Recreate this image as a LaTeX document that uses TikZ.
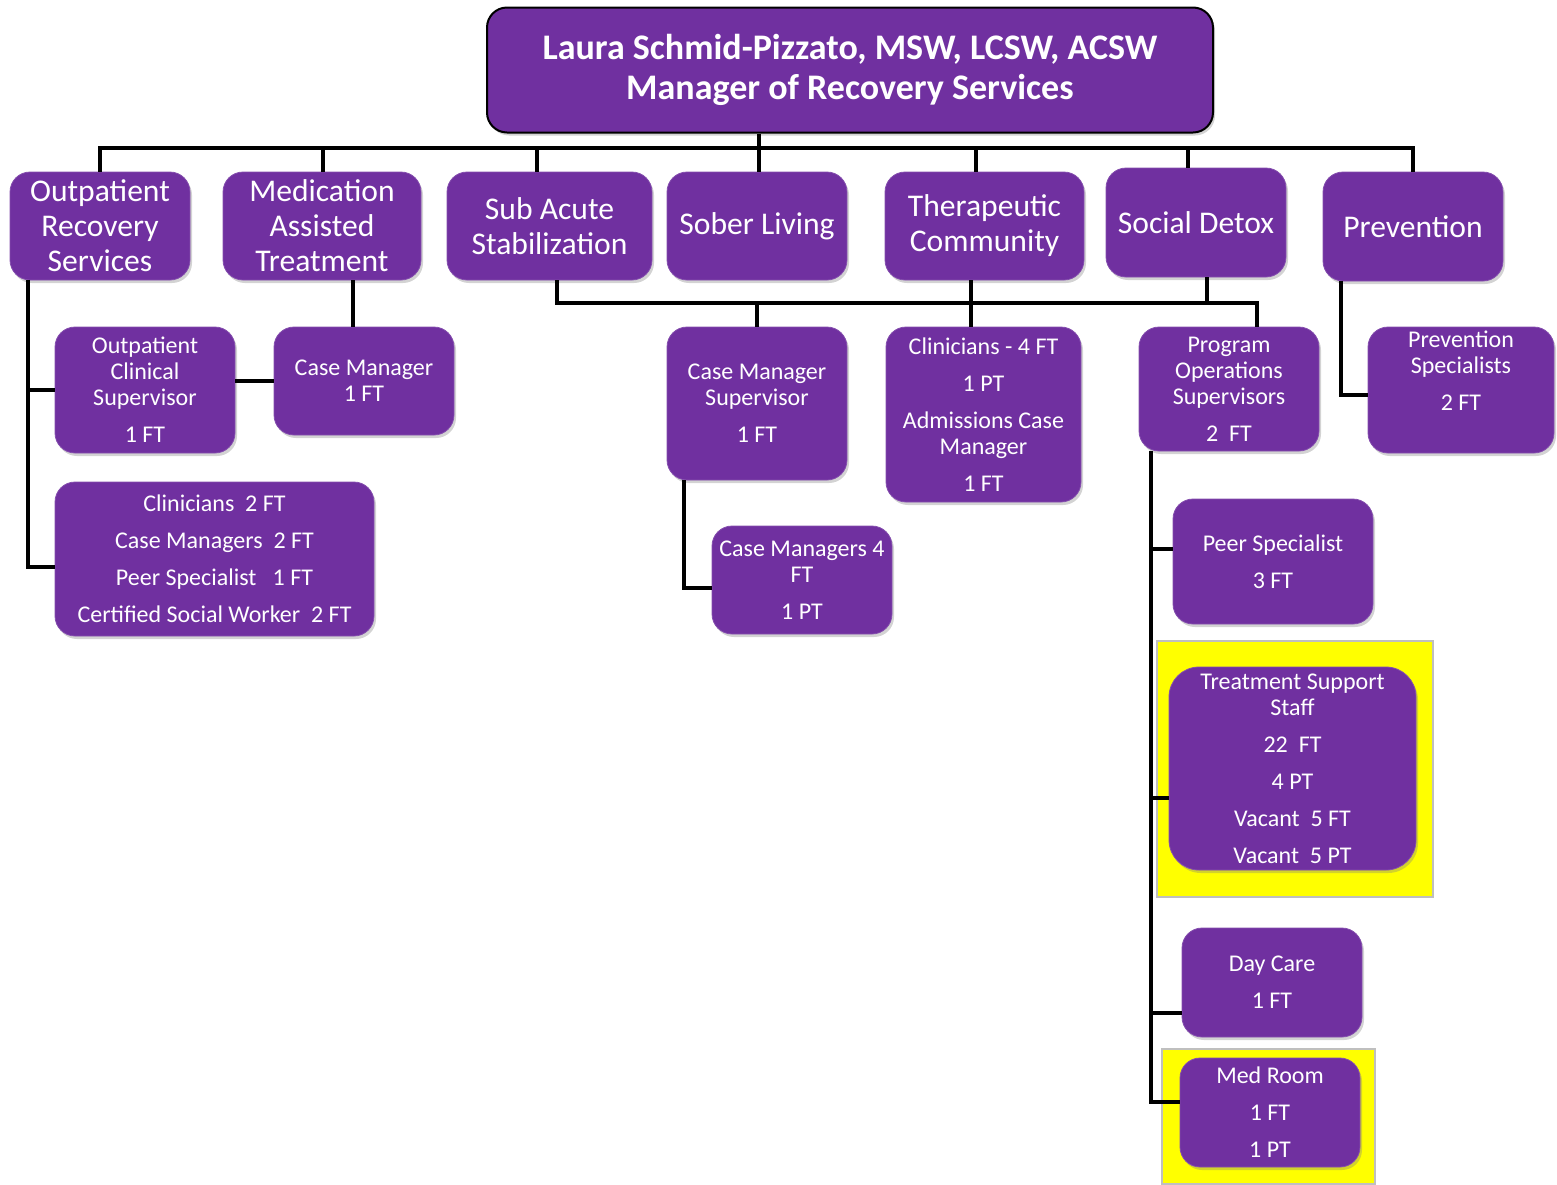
\documentclass[tikz,border=0pt]{standalone}
\usepackage{fontspec}
\setmainfont{Carlito}
\usepackage{tikz}
\usetikzlibrary{calc,shadows}
\definecolor{staffpurple}{HTML}{7030A0}
\definecolor{marker}{HTML}{FFFF00}
\definecolor{markerline}{HTML}{BFBFBF}

\begin{document}
\begin{tikzpicture}[x=0.5pt,y=-0.5pt,
box/.style={draw=staffpurple!85!white,fill=staffpurple,rounded corners=10pt,text=white,
 align=center,inner sep=2pt,drop shadow={shadow xshift=1pt,shadow yshift=-1.5pt,opacity=0.35}},
head/.style={box,draw=black,line width=1pt,font=\fontsize{18}{20}\selectfont\bfseries},
unit/.style={box,font=\fontsize{15.8}{17.5}\selectfont},
staff/.style={box,font=\fontsize{12}{13}\selectfont},
conn/.style={line width=1.8pt},
hilite/.style={fill=marker,draw=markerline,line width=0.6pt}]
\useasboundingbox (0,0) rectangle (1557,1184);
\draw[hilite] (1157,641) rectangle (1433,897);
\draw[hilite] (1162,1049) rectangle (1375,1184);
\node[head,minimum width=363pt,minimum height=62.5pt] (head) at (850,70)
 {Laura Schmid-Pizzato, MSW, LCSW, ACSW\\Manager of Recovery Services};
\node[unit,minimum width=90pt,minimum height=54pt] (orec) at (100,226) {Outpatient\\Recovery\\Services};
\node[unit,minimum width=99pt,minimum height=54pt] (mat) at (322,226) {Medication\\Assisted\\Treatment};
\node[unit,minimum width=102.5pt,minimum height=54pt] (sas) at (549.5,226) {Sub Acute\\Stabilization};
\node[unit,minimum width=90pt,minimum height=54pt] (sober) at (757,226) {Sober Living};
\node[unit,minimum width=99.5pt,minimum height=54pt] (tc) at (984.5,226) {Therapeutic\\Community};
\node[unit,minimum width=90pt,minimum height=54.5pt] (sdetox) at (1196,222.5) {Social Detox};
\node[unit,minimum width=90pt,minimum height=54.5pt] (prev) at (1413,226.5) {Prevention};
\node[staff,minimum width=90pt,minimum height=63pt] (ocs) at (145,390)
 {Outpatient\\Clinical\\Supervisor\\[5.5pt]1 FT};
\node[staff,minimum width=90pt,minimum height=54pt] (cm) at (364,381) {Case Manager\\1 FT};
\node[staff,minimum width=159.5pt,minimum height=77pt] (opstaff) at (214.5,559)
 {Clinicians\ \ 2 FT\\[5.5pt]Case Managers\ \ 2 FT\\[5.5pt]Peer Specialist\ \ \ 1 FT\\[5.5pt]Certified Social Worker\ \ 2 FT};
\node[staff,minimum width=90pt,minimum height=76.5pt] (cms) at (757,403.5) {Case Manager\\Supervisor\\[5.5pt]1 FT};
\node[staff,minimum width=97.5pt,minimum height=87.5pt] (tcstaff) at (983.5,414.5)
 {Clinicians - 4 FT\\[5.5pt]1 PT\\[5.5pt]Admissions Case\\Manager\\[5.5pt]1 FT};
\node[staff,minimum width=90pt,minimum height=54pt] (cm4) at (802,580) {Case Managers 4\\FT\\[5.5pt]1 PT};
\node[staff,minimum width=90pt,minimum height=62pt] (pos) at (1229,389)
 {Program\\Operations\\Supervisors\\[5.5pt]2\ \ FT};
\node[staff,minimum width=93pt,minimum height=63pt] (prevspec) at (1461,390)
 {Prevention\\Specialists\\[5.5pt]2 FT\\[6pt]\mbox{}};
\node[staff,minimum width=100pt,minimum height=62.5pt] (peer) at (1273,561.5) {Peer Specialist\\[5.5pt]3 FT};
\node[staff,rounded corners=15pt,minimum width=123.5pt,minimum height=101.5pt] (tss) at (1292.5,768.5)
 {Treatment Support\\Staff\\[5.5pt]22\ \ FT\\[5.5pt]4 PT\\[5.5pt]Vacant\ \ 5 FT\\[5.5pt]Vacant\ \ 5 PT};
\node[staff,minimum width=90pt,minimum height=54.5pt] (daycare) at (1272,982.5) {Day Care\\[5.5pt]1 FT};
\node[staff,minimum width=90pt,minimum height=54.5pt] (medroom) at (1270,1112.5) {Med Room\\[5.5pt]1 FT\\[5.5pt]1 PT};
\coordinate (bus) at (700,148);
\coordinate (mid) at (700,303);
\draw[conn] ([xshift=-45.5pt]head.south) -- ([xshift=-45.5pt]head.south |- bus);
\draw[conn] (orec.north) |- (prev.north |- bus) -- (prev.north);
\draw[conn] ([xshift=0.5pt]mat.north) -- ([xshift=0.5pt]mat.north |- bus);
\draw[conn] ([xshift=-6.25pt]sas.north) -- ([xshift=-6.25pt]sas.north |- bus);
\draw[conn] ([xshift=1pt]sober.north) -- ([xshift=1pt]sober.north |- bus);
\draw[conn] ([xshift=-4.25pt]tc.north) -- ([xshift=-4.25pt]tc.north |- bus);
\draw[conn] ([xshift=-4pt]sdetox.north) -- ([xshift=-4pt]sdetox.north |- bus);
\coordinate (orbot) at ([xshift=-36pt]orec.south);
\draw[conn] (orbot) |- ([yshift=-4pt]opstaff.west);
\draw[conn] (ocs.west) -- (ocs.west -| orbot);
\draw[conn] ([xshift=15.5pt]mat.south) -- ([xshift=15.5pt]mat.south |- cm.north);
\draw[conn] (cm.west) -- (cm.west -| ocs.east);
\draw[conn] ([xshift=3.75pt]sas.south) |- ([xshift=14pt]pos.north |- mid) -- ([xshift=14pt]pos.north);
\draw[conn] ([xshift=5.5pt]sdetox.south) -- ([xshift=5.5pt]sdetox.south |- mid);
\draw[conn] ([xshift=-6.75pt]tc.south) -- ([xshift=-6.75pt]tc.south |- tcstaff.north);
\draw[conn] (cms.north) -- (cms.north |- mid);
\draw[conn] ([xshift=-36.5pt]cms.south) |- ([yshift=-4pt]cm4.west);
\draw[conn] ([xshift=-36pt]prev.south) |- ([yshift=-2.5pt]prevspec.west);
\coordinate (posbot) at ([xshift=-39pt]pos.south);
\draw[conn] (posbot) |- ([yshift=5.25pt]medroom.west);
\draw[conn] ([yshift=6.25pt]peer.west) -- ([yshift=6.25pt]peer.west -| posbot);
\draw[conn] ([yshift=-14.75pt]tss.west) -- ([yshift=-14.75pt]tss.west -| posbot);
\draw[conn] ([yshift=-15.25pt]daycare.west) -- ([yshift=-15.25pt]daycare.west -| posbot);
\end{tikzpicture}
\end{document}
